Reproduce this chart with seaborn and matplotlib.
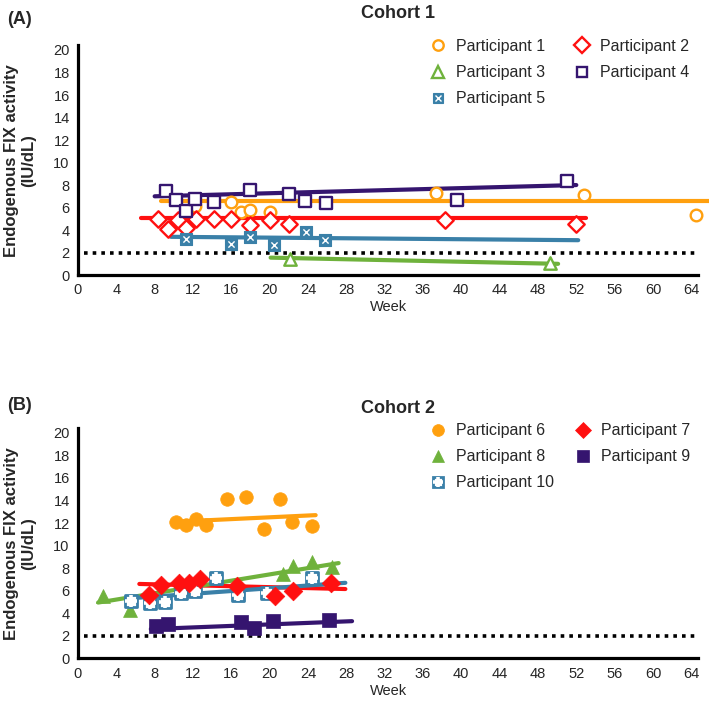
import numpy as np
import matplotlib
matplotlib.use("Agg")
import matplotlib.pyplot as plt
import seaborn as sns
from matplotlib.lines import Line2D

sns.set_style("white")
plt.rcParams["font.family"] = ["Liberation Sans", "DejaVu Sans"]

# ---- data (week, endogenous FIX activity IU/dL) ----
# Cohort 1
p1_week = [12.2, 16.0, 17.0, 18.0, 20.0, 37.4, 52.8, 64.5]
p1_fix = [6.1, 6.5, 5.6, 5.75, 5.6, 7.3, 7.1, 5.3]
p2_week = [8.3, 9.4, 10.4, 11.3, 12.3, 14.2, 16.0, 18.0, 20.0, 22.0, 38.3, 52.0]
p2_fix = [4.95, 4.1, 4.9, 4.2, 4.95, 4.95, 4.95, 4.45, 4.9, 4.5, 4.9, 4.5]
p3_week = [22.1, 49.3]
p3_fix = [1.4, 1.1]
p4_week = [9.2, 10.2, 11.3, 12.2, 14.2, 18.0, 22.0, 23.7, 25.9, 39.5, 51.0]
p4_fix = [7.5, 6.7, 5.7, 6.8, 6.5, 7.6, 7.2, 6.6, 6.4, 6.7, 8.4]
p5_week = [11.3, 16.0, 18.0, 20.5, 23.8, 25.8]
p5_fix = [3.2, 2.8, 3.35, 2.7, 3.8, 3.1]

# Cohort 2
p6_week = [10.2, 11.3, 12.3, 13.4, 15.5, 17.5, 19.4, 21.1, 22.3, 24.4]
p6_fix = [12.07, 11.8, 12.4, 11.8, 14.1, 14.3, 11.45, 14.1, 12.1, 11.7]
p7_week = [7.45, 8.7, 10.5, 11.6, 12.7, 16.6, 20.6, 22.4, 26.4]
p7_fix = [5.6, 6.5, 6.7, 6.65, 7.05, 6.4, 5.5, 6.0, 6.65]
p8_week = [2.6, 5.4, 21.4, 22.4, 24.4, 26.5]
p8_fix = [5.5, 4.25, 7.5, 8.2, 8.55, 8.1]
p9_week = [8.15, 9.4, 17.0, 18.4, 20.3, 26.2]
p9_fix = [2.9, 3.05, 3.25, 2.7, 3.35, 3.4]
p10_week = [5.5, 7.5, 9.1, 10.7, 12.2, 14.4, 16.7, 19.7, 24.4]
p10_fix = [5.1, 4.9, 5.0, 5.8, 6.0, 7.1, 5.6, 5.8, 7.1]

# trend line end points (week, value)
p1_trend = ([8.7, 66.0], [6.6, 6.6])
p2_trend = ([6.6, 53.0], [5.1, 5.1])
p3_trend = ([20.1, 50.1], [1.55, 1.0])
p4_trend = ([8.0, 52.0], [7.0, 8.0])
p5_trend = ([9.7, 52.2], [3.4, 3.1])
p6_trend = ([9.8, 24.8], [12.1, 12.7])
p7_trend = ([6.4, 27.9], [6.6, 6.15])
p8_trend = ([2.1, 27.2], [4.95, 8.45])
p9_trend = ([7.6, 28.6], [2.6, 3.3])
p10_trend = ([5.0, 27.9], [5.3, 6.7])

threshold = 2
x_ticks = list(range(0, 65, 4))
y_ticks = list(range(0, 21, 2))

ORANGE = "#FFA00F"
RED = "#FF1010"
GREEN = "#6FB23C"
PURPLE = "#35156F"
BLUE = "#3A80A8"

fig = plt.figure(figsize=(7.09, 7.22), dpi=100)
ax_a = fig.add_axes([0.110, 0.619, 0.8745, 0.318])
ax_b = fig.add_axes([0.110, 0.0881, 0.8745, 0.3187])


def style_axis(ax):
    ax.set_xlim(0, 64.7)
    ax.set_ylim(0, 20.4)
    ax.set_xticks(x_ticks)
    ax.set_yticks(y_ticks)
    for s in ["top", "right"]:
        ax.spines[s].set_visible(False)
    for s in ["left", "bottom"]:
        ax.spines[s].set_linewidth(2.3)
        ax.spines[s].set_color("black")
    ax.tick_params(axis="both", direction="out", length=4, width=2.2,
                   color="black", labelsize=10.5, pad=2)
    ax.set_xlabel("Week", fontsize=10.5, labelpad=2)
    ax.set_ylabel("Endogenous FIX activity\n(IU/dL)", fontsize=12,
                  fontweight="bold", linespacing=1.15)
    ax.yaxis.set_label_coords(-0.068, 0.5)
    sns.lineplot(x=[0.6, 64.5], y=[threshold, threshold], ax=ax, color="black",
                 linewidth=2.6, linestyle=(0, (1, 1.4)), zorder=1)


def trend(ax, pts, color, clip=True):
    sns.lineplot(x=pts[0], y=pts[1], ax=ax, color=color, linewidth=3.0,
                 zorder=2, clip_on=clip)


def points(ax, x, y, color, marker, s, filled, lw=1.7, z=3):
    sns.scatterplot(x=x, y=y, ax=ax, color=color, marker=marker, s=s,
                    facecolor=color if filled else "white", edgecolor=color,
                    linewidth=lw, zorder=z, clip_on=False)


# ---- panel A ----
style_axis(ax_a)
trend(ax_a, p1_trend, ORANGE, clip=False)
trend(ax_a, p2_trend, RED)
trend(ax_a, p3_trend, GREEN)
trend(ax_a, p4_trend, PURPLE)
trend(ax_a, p5_trend, BLUE)
points(ax_a, p1_week, p1_fix, ORANGE, "o", 70, False)
points(ax_a, p2_week, p2_fix, RED, "D", 70, False)
points(ax_a, p3_week, p3_fix, GREEN, "^", 80, False)
points(ax_a, p4_week, p4_fix, PURPLE, "s", 85, False)
points(ax_a, p5_week, p5_fix, BLUE, "s", 85, True, lw=0.8)
sns.scatterplot(x=p5_week, y=p5_fix, ax=ax_a, color="white", marker="x", s=20,
                edgecolor=None, linewidth=1.0, zorder=4)

# ---- panel B ----
style_axis(ax_b)
trend(ax_b, p6_trend, ORANGE)
trend(ax_b, p7_trend, RED)
trend(ax_b, p8_trend, GREEN)
trend(ax_b, p9_trend, PURPLE)
trend(ax_b, p10_trend, BLUE)
points(ax_b, p6_week, p6_fix, ORANGE, "o", 95, True, lw=0.5)
points(ax_b, p8_week, p8_fix, GREEN, "^", 100, True, lw=0.5)
points(ax_b, p10_week, p10_fix, BLUE, "s", 80, False, lw=2.0)
sns.scatterplot(x=p10_week, y=p10_fix, ax=ax_b, color="white", marker="+", s=80,
                edgecolor=None, linewidth=2.6, zorder=4)
points(ax_b, p7_week, p7_fix, RED, "D", 90, True, lw=0.5, z=5)
points(ax_b, p9_week, p9_fix, PURPLE, "s", 90, True, lw=0.5, z=5)


# ---- legends ----
def mk(marker, color, filled, ms=8.0, mew=1.7):
    return Line2D([], [], linestyle="none", marker=marker, markersize=ms,
                  markerfacecolor=color if filled else "white",
                  markeredgecolor=color, markeredgewidth=mew)


h1 = mk("o", ORANGE, False, 7.5)
h2 = mk("D", RED, False, 8.0)
h3 = mk("^", GREEN, False, 8.0)
h4 = mk("s", PURPLE, False, 7.8)
h5 = (mk("s", BLUE, True, 7.8, 0.8),
      Line2D([], [], linestyle="none", marker="x", markersize=4.0,
             color="white", markeredgewidth=1.0))
fig.legend([h1, h3, h5, h2, h4],
           ["Participant 1", "Participant 3", "Participant 5",
            "Participant 2", "Participant 4"],
           ncol=2, loc="upper left", bbox_to_anchor=(0.6065, 0.946),
           frameon=False, fontsize=11.5, handlelength=1.0, handletextpad=0.63,
           columnspacing=1.8, labelspacing=0.7, borderpad=0, borderaxespad=0)

h6 = mk("o", ORANGE, True, 8.5, 0.5)
h7 = mk("D", RED, True, 8.3, 0.5)
h8 = mk("^", GREEN, True, 8.8, 0.5)
h9 = mk("s", PURPLE, True, 8.3, 0.5)
h10 = (mk("s", BLUE, False, 7.6, 2.0),
       Line2D([], [], linestyle="none", marker="+", markersize=7.6,
              color="white", markeredgewidth=2.6))
fig.legend([h6, h8, h10, h7, h9],
           ["Participant 6", "Participant 8", "Participant 10",
            "Participant 7", "Participant 9"],
           ncol=2, loc="upper left", bbox_to_anchor=(0.6065, 0.414),
           frameon=False, fontsize=11.5, handlelength=1.0, handletextpad=0.63,
           columnspacing=1.3, labelspacing=0.7, borderpad=0, borderaxespad=0)

# ---- titles and panel letters ----
fig.text(0.561, 1 - 14 / 722, "Cohort 1", ha="center", va="center",
         fontsize=13, fontweight="bold")
fig.text(0.561, 1 - 408 / 722, "Cohort 2", ha="center", va="center",
         fontsize=13, fontweight="bold")
fig.text(0.010, 1 - 20 / 722, "(A)", ha="left", va="center",
         fontsize=13, fontweight="bold")
fig.text(0.010, 1 - 406 / 722, "(B)", ha="left", va="center",
         fontsize=13, fontweight="bold")

fig.savefig("out.png", dpi=100)
